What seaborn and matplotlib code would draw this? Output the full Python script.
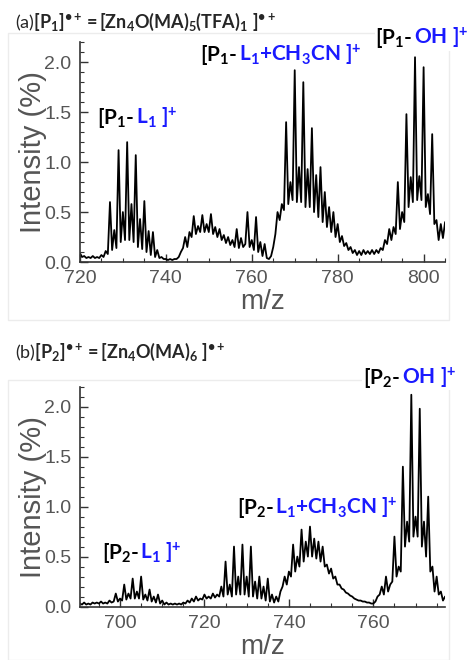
import numpy as np
import matplotlib
matplotlib.use("Agg")
import matplotlib.pyplot as plt
import seaborn as sns
from matplotlib.offsetbox import TextArea, HPacker, AnnotationBbox
from matplotlib.patches import Rectangle
from matplotlib.ticker import MultipleLocator, FormatStrFormatter

# ---- data (intensity every 0.5 m/z) ----
# panel (a): m/z 720 ... 805
a_start, a_stop = 720.0, 805.0
a_int = [
    0.09, 0.05, 0.06, 0.04, 0.05, 0.04, 0.06, 0.04, 0.05, 0.04,   # 720
    0.07, 0.05, 0.11, 0.08, 0.60, 0.12, 0.32, 0.14, 1.12, 0.20,   # 725
    0.50, 0.22, 1.20, 0.22, 0.58, 0.20, 1.07, 0.15, 0.43, 0.13,   # 730
    0.61, 0.10, 0.31, 0.07, 0.30, 0.05, 0.12, 0.04, 0.05, 0.03,   # 735
    0.03, 0.02, 0.03, 0.02, 0.03, 0.03, 0.05, 0.10, 0.14, 0.25,   # 740
    0.15, 0.30, 0.25, 0.46, 0.28, 0.36, 0.30, 0.47, 0.30, 0.38,   # 745
    0.30, 0.48, 0.28, 0.35, 0.25, 0.33, 0.22, 0.27, 0.19, 0.25,   # 750
    0.17, 0.22, 0.15, 0.33, 0.14, 0.24, 0.15, 0.18, 0.50, 0.15,   # 755
    0.22, 0.12, 0.45, 0.10, 0.20, 0.06, 0.18, 0.04, 0.03, 0.06,   # 760
    0.15, 0.28, 0.50, 0.42, 0.58, 0.52, 1.40, 0.58, 0.80, 0.62,   # 765
    1.92, 0.60, 0.95, 0.60, 1.80, 0.55, 0.93, 0.55, 1.34, 0.50,   # 770
    0.87, 0.45, 0.95, 0.40, 0.70, 0.35, 0.55, 0.30, 0.50, 0.25,   # 775
    0.38, 0.20, 0.26, 0.16, 0.19, 0.12, 0.15, 0.09, 0.12, 0.07,   # 780
    0.11, 0.07, 0.12, 0.08, 0.11, 0.08, 0.12, 0.08, 0.12, 0.09,   # 785
    0.14, 0.12, 0.22, 0.18, 0.33, 0.22, 0.35, 0.28, 0.80, 0.33,   # 790
    0.50, 0.40, 1.48, 0.55, 0.85, 0.60, 2.05, 0.62, 0.86, 0.62,   # 795
    1.95, 0.55, 0.68, 0.48, 1.28, 0.38, 0.42, 0.22, 0.38, 0.24,   # 800
    0.40,                                                         # 805
]

# panel (b): m/z 690 ... 777
b_start, b_stop = 690.0, 777.0
b_int = [
    0.06, 0.03, 0.02, 0.04, 0.02, 0.03, 0.02, 0.04, 0.03, 0.04,   # 690
    0.03, 0.05, 0.03, 0.04, 0.03, 0.06, 0.04, 0.05, 0.13, 0.05,   # 695
    0.08, 0.06, 0.22, 0.07, 0.13, 0.08, 0.28, 0.08, 0.15, 0.08,   # 700
    0.30, 0.07, 0.12, 0.06, 0.17, 0.05, 0.10, 0.04, 0.12, 0.03,   # 705
    0.06, 0.02, 0.04, 0.02, 0.03, 0.02, 0.03, 0.02, 0.03, 0.02,   # 710
    0.04, 0.03, 0.06, 0.04, 0.08, 0.05, 0.10, 0.06, 0.08, 0.07,   # 715
    0.12, 0.08, 0.10, 0.08, 0.13, 0.09, 0.12, 0.10, 0.20, 0.10,   # 720
    0.45, 0.12, 0.22, 0.10, 0.60, 0.12, 0.30, 0.12, 0.62, 0.12,   # 725
    0.30, 0.10, 0.60, 0.10, 0.25, 0.08, 0.30, 0.08, 0.20, 0.06,   # 730
    0.28, 0.05, 0.12, 0.04, 0.10, 0.05, 0.15, 0.20, 0.30, 0.22,   # 735
    0.35, 0.30, 0.62, 0.35, 0.50, 0.40, 0.77, 0.45, 0.65, 0.50,   # 740
    0.80, 0.50, 0.68, 0.48, 0.65, 0.45, 0.60, 0.40, 0.42, 0.33,   # 745
    0.38, 0.28, 0.30, 0.22, 0.22, 0.18, 0.17, 0.14, 0.13, 0.11,   # 750
    0.10, 0.08, 0.07, 0.06, 0.06, 0.05, 0.05, 0.04, 0.04, 0.03,   # 755
    0.03, 0.05, 0.10, 0.12, 0.20, 0.12, 0.30, 0.15, 0.22, 0.25,   # 760
    0.70, 0.30, 0.40, 0.35, 1.40, 0.60, 0.85, 0.65, 2.12, 0.70,   # 765
    0.90, 0.70, 1.98, 0.60, 0.85, 0.50, 1.10, 0.35, 0.40, 0.15,   # 770
    0.30, 0.12, 0.15, 0.06, 0.10,                                 # 775
]

a_mz = np.arange(a_start, a_stop + 0.25, 0.5)
b_mz = np.arange(b_start, b_stop + 0.25, 0.5)

a_title = r"(a)$\mathbf{[P_1]^{•+} = [Zn_4O(MA)_5(TFA)_1\ ]^{•+}}$"
b_title = r"(b)$\mathbf{[P_2]^{•+} = [Zn_4O(MA)_6\ ]^{•+}}$"

# (x, y, P index, fragment) of the peak labels
a_labels = [(724.0, 1.32, 1, r"L$_\mathbf{1}$"),
            (748.0, 1.95, 1, r"L$_\mathbf{1}$+CH$_\mathbf{3}$CN"),
            (788.8, 2.12, 1, "OH")]
b_labels = [(695.7, 0.42, 2, r"L$_\mathbf{1}$"),
            (727.7, 0.87, 2, r"L$_\mathbf{1}$+CH$_\mathbf{3}$CN"),
            (757.6, 2.17, 2, "OH")]

# ---- style ----
sns.set_style("ticks")
plt.rcParams["font.family"] = ["Liberation Sans", "DejaVu Sans"]
plt.rcParams["mathtext.fontset"] = "custom"
plt.rcParams["mathtext.rm"] = "Lato"
plt.rcParams["mathtext.bf"] = "Lato:bold"
plt.rcParams["mathtext.it"] = "Lato:italic"

gray = "#555555"
blue = "#1a1aff"

fig = plt.figure(figsize=(4.7, 6.6), dpi=100)

# faint panel frames, behind everything
for y0, h in [(0.515, 0.435), (0.0, 0.424)]:
    fig.patches.append(Rectangle((0.017, y0), 0.938, h, transform=fig.transFigure,
                                 fill=False, ec="#ececec", lw=1, zorder=-5))

ax_a = fig.add_axes([0.170, 0.603, 0.777, 0.333])
ax_b = fig.add_axes([0.170, 0.081, 0.777, 0.333])
for ax in (ax_a, ax_b):
    ax.patch.set_alpha(0)


def peak_label(ax, x, y, p, frag):
    font = dict(family="Lato", weight="bold", size=15)
    t1 = TextArea(r"[P$_\mathbf{%d}$- " % p, textprops=dict(color="black", **font))
    t2 = TextArea(frag + r" ]$^\mathbf{+}$", textprops=dict(color=blue, **font))
    box = HPacker(children=[t1, t2], align="baseline", pad=0, sep=0)
    ab = AnnotationBbox(box, (x, y), xycoords="data", box_alignment=(0, 0),
                        frameon=True, pad=0.05, annotation_clip=False,
                        bboxprops=dict(fc="white", ec="none"))
    ab.set_zorder(5)
    ax.add_artist(ab)


for ax, mz, inten, xlim, labels in [(ax_a, a_mz, a_int, (720, 805), a_labels),
                                    (ax_b, b_mz, b_int, (690.5, 777), b_labels)]:
    sns.lineplot(x=mz, y=inten, ax=ax, color="black", lw=1.3)
    ax.set_xlim(*xlim)
    ax.set_ylim(0, 2.2)
    ax.xaxis.set_major_locator(MultipleLocator(20))
    ax.xaxis.set_minor_locator(MultipleLocator(5))
    ax.yaxis.set_major_locator(MultipleLocator(0.5))
    ax.yaxis.set_minor_locator(MultipleLocator(0.1))
    ax.yaxis.set_major_formatter(FormatStrFormatter("%.1f"))
    ax.tick_params(which="both", direction="in", color="#333333",
                   labelsize=14, labelcolor=gray, pad=6)
    ax.tick_params(which="major", length=6, width=1)
    ax.tick_params(which="minor", length=3, width=0.8)
    for s in ["top", "right"]:
        ax.spines[s].set_visible(False)
    for s in ["left", "bottom"]:
        ax.spines[s].set_color("#333333")
        ax.spines[s].set_linewidth(1.2)
    ax.set_ylabel("Intensity (%)", fontsize=21, color=gray)
    ax.set_xlabel("m/z", fontsize=20, color=gray)
    ax.yaxis.set_label_coords(-0.09, 0.5)
    ax.xaxis.set_label_coords(0.5, -0.125)
    for x, y, p, frag in labels:
        peak_label(ax, x, y, p, frag)

fig.text(0.032, 0.95, a_title, family="Lato", fontsize=13, va="bottom")
fig.text(0.032, 0.45, b_title, family="Lato", fontsize=13, va="bottom")

fig.savefig("out.png", dpi=100)
